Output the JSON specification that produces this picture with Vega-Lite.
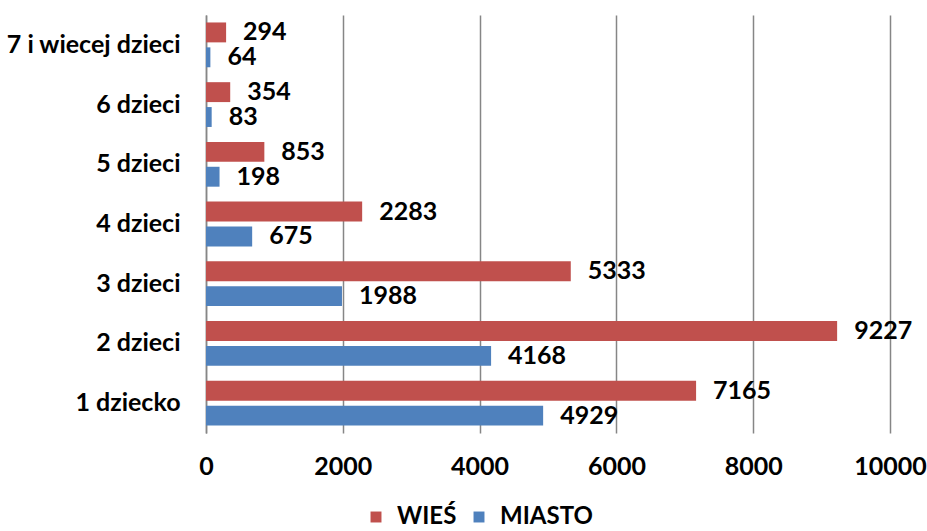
{
  "$schema": "https://vega.github.io/schema/vega-lite/v6.json",
  "width": 684,
  "height": 418,
  "autosize": {"type": "none"},
  "padding": {"left": 206, "top": 15, "right": 37, "bottom": 98},
  "background": "white",
  "config": {
    "view": {"stroke": null},
    "font": "Lato",
    "axis": {"labelFont": "Lato", "labelFontWeight": "bold", "labelFontSize": 25, "labelColor": "#000000"},
    "legend": {"labelFont": "Lato", "labelFontWeight": "bold", "labelFontSize": 24, "labelColor": "#000000"}
  },
  "data": {
    "values": [
      {"kat": "7 i wiecej dzieci", "typ": "WIEŚ", "v": 294},
      {"kat": "7 i wiecej dzieci", "typ": "MIASTO", "v": 64},
      {"kat": "6 dzieci", "typ": "WIEŚ", "v": 354},
      {"kat": "6 dzieci", "typ": "MIASTO", "v": 83},
      {"kat": "5 dzieci", "typ": "WIEŚ", "v": 853},
      {"kat": "5 dzieci", "typ": "MIASTO", "v": 198},
      {"kat": "4 dzieci", "typ": "WIEŚ", "v": 2283},
      {"kat": "4 dzieci", "typ": "MIASTO", "v": 675},
      {"kat": "3 dzieci", "typ": "WIEŚ", "v": 5333},
      {"kat": "3 dzieci", "typ": "MIASTO", "v": 1988},
      {"kat": "2 dzieci", "typ": "WIEŚ", "v": 9227},
      {"kat": "2 dzieci", "typ": "MIASTO", "v": 4168},
      {"kat": "1 dziecko", "typ": "WIEŚ", "v": 7165},
      {"kat": "1 dziecko", "typ": "MIASTO", "v": 4929}
    ]
  },
  "encoding": {
    "y": {
      "field": "kat", "type": "nominal",
      "sort": ["7 i wiecej dzieci", "6 dzieci", "5 dzieci", "4 dzieci", "3 dzieci", "2 dzieci", "1 dziecko"],
      "scale": {"paddingInner": 0.25, "paddingOuter": 0.125},
      "axis": {"title": null, "ticks": false, "domain": true, "domainColor": "#868686", "domainWidth": 1.5, "labelPadding": 26, "grid": false}
    },
    "yOffset": {
      "field": "typ", "type": "nominal",
      "sort": ["WIEŚ", "MIASTO"],
      "scale": {"paddingInner": 0.2, "paddingOuter": 0}
    },
    "x": {
      "field": "v", "type": "quantitative",
      "scale": {"domain": [0, 10000], "nice": false},
      "axis": {"title": null, "values": [0, 2000, 4000, 6000, 8000, 10000], "format": "d", "ticks": false, "domain": false, "grid": true, "gridColor": "#868686", "gridWidth": 1.5, "labelPadding": 21, "labelFlush": false, "labelOverlap": false, "labelBound": false}
    }
  },
  "layer": [
    {
      "mark": {"type": "bar"},
      "encoding": {
        "color": {
          "field": "typ", "type": "nominal",
          "sort": ["WIEŚ", "MIASTO"],
          "scale": {"domain": ["WIEŚ", "MIASTO"], "range": ["#C0504D", "#4F81BD"]},
          "legend": {"title": null, "orient": "none", "direction": "horizontal", "legendX": 158, "legendY": 490, "symbolType": "square", "symbolSize": 120, "symbolStrokeWidth": 0, "columnPadding": 10, "labelOffset": 9, "padding": 0}
        }
      }
    },
    {
      "mark": {"type": "text", "align": "left", "baseline": "middle", "dx": 17, "font": "Lato", "fontWeight": "bold", "fontSize": 25, "color": "#000000"},
      "encoding": {"text": {"field": "v", "type": "quantitative", "format": "d"}}
    }
  ]
}
